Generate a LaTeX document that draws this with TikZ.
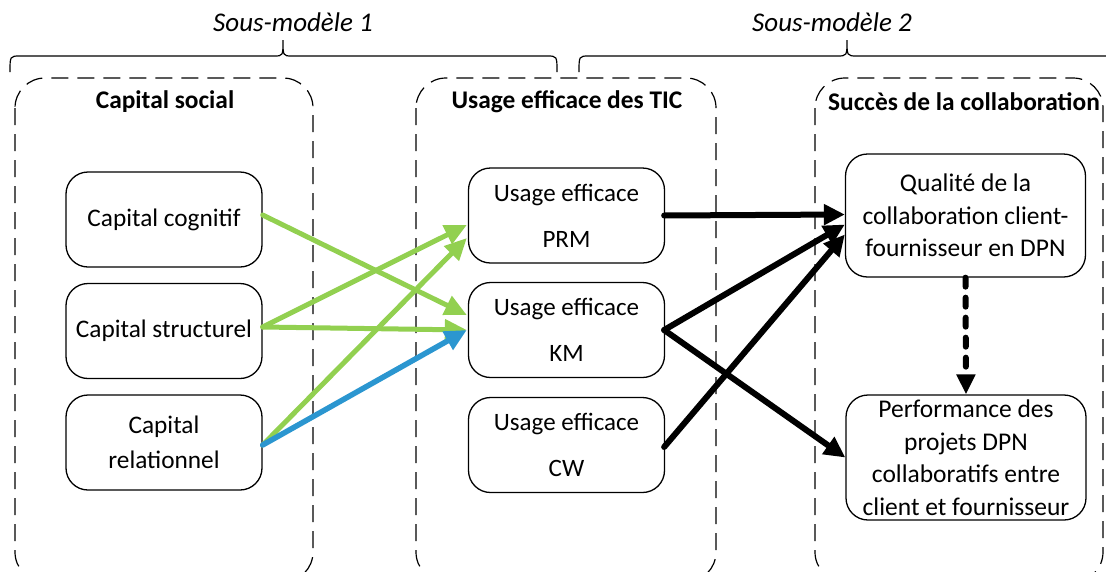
\documentclass[tikz,border=0pt]{standalone}
\usepackage{fontspec}
\setmainfont{Carlito}
\usetikzlibrary{arrows.meta,calc}
\definecolor{vert}{HTML}{92D050}
\definecolor{bleu}{HTML}{2B96D0}
\begin{document}
\begin{tikzpicture}[x=1pt,y=-1pt,
  box/.style={draw,rounded corners=22pt,line width=1.3pt,minimum width=196pt,minimum height=95pt,align=center,inner sep=2pt,font=\fontsize{25.3}{35}\selectfont},
  ubox/.style={box,font=\fontsize{25}{46}\selectfont},
  rbox/.style={box,minimum width=240pt,minimum height=123pt,font=\fontsize{25.5}{32.5}\selectfont},
  group/.style={draw,dash pattern=on 17pt off 9pt,rounded corners=30pt,line width=1.2pt},
  gtitle/.style={font=\bfseries\fontsize{25.4}{30}\selectfont},
  stitle/.style={font=\itshape\fontsize{27}{30}\selectfont},
  brace/.style={draw,line width=1.2pt},
  garrow/.style={vert,line width=5pt,line cap=round,-{Triangle[length=22pt,width=20pt]}},
  barrow/.style={bleu,line width=5.5pt,line cap=round,-{Triangle[length=22pt,width=20pt]}},
  karrow/.style={black,line width=6pt,line cap=round,-{Triangle[length=21pt,width=20pt]}},
  darrow/.style={black,line width=6pt,line cap=round,dash pattern=on 9pt off 11pt,-{Triangle[length=20pt,width=18pt]}}
]
\useasboundingbox (0,0) rectangle (1106,571);

% braces and labels
\node[stitle] (s1) at (293,22) {Sous-modèle 1};
\node[stitle] (s2) at (832,22) {Sous-modèle 2};
\draw[brace] (10,72) .. controls (10,56) .. (20,56) -- (274,56) .. controls (283,56) .. (283,40) .. controls (283,56) .. (292,56) -- (547,56) .. controls (557,56) .. (557,72);
\draw[brace] (579,72) .. controls (579,56) .. (589,56) -- (837,56) .. controls (847,56) .. (847,40) .. controls (847,56) .. (857,56) -- (1105,56) .. controls (1115,56) .. (1115,72);

% group frames
\draw[group] (15,78) rectangle (313,582);
\draw[group] (416,78) rectangle (716,582);
\draw[group] (815,78) rectangle (1103,582);
\node[gtitle] (g1) at (165,102) {Capital social};
\node[gtitle] (g2) at (567,102) {Usage efficace des TIC};
\node[gtitle] (g3) at (964,102) {Succès de la collaboration};

% nodes
\node[box] (cog) at (164,219.5) {Capital cognitif};
\node[box] (str) at (164,331) {Capital structurel};
\node[box] (rel) at (164,442.5) {Capital\\relationnel};
\node[ubox] (prm) at (566.5,215.5) {Usage efficace\\PRM};
\node[ubox] (km) at (566.5,330) {Usage efficace\\KM};
\node[ubox] (cw) at (566.5,445) {Usage efficace\\CW};
\node[rbox] (qual) at (965.5,215.5) {Qualité de la\\collaboration client-\\fournisseur en DPN};
\node[rbox,minimum height=125pt] (perf) at (966,457.5) {Performance des\\projets DPN\\collaboratifs entre\\client et fournisseur};

% green / blue arrows
\draw[garrow] ($(cog.east)+(0,-4.5)$) -- ($(km.west)+(-1,-15)$);
\draw[garrow] ($(str.east)+(0,-4)$) -- ($(prm.west)+(-1,9.5)$);
\draw[garrow] ($(str.east)+(0,-4)$) -- ($(km.west)+(-1,0)$);
\draw[garrow] ($(rel.east)+(0,2.5)$) -- ($(prm.west)+(-1,22.5)$);
\draw[barrow] ($(rel.east)+(0,2.5)$) -- ($(km.west)+(-1,0)$);

% black arrows
\draw[karrow] ($(prm.east)+(-1,0)$) -- ($(qual.west)+(0,-1)$);
\draw[karrow] ($(km.east)+(-1,0)$) -- ($(qual.west)+(0,9)$);
\draw[karrow] ($(km.east)+(-1,0)$) -- ($(perf.west)+(0,0)$);
\draw[karrow] ($(cw.east)+(-1,2)$) -- ($(qual.west)+(0,19)$);
\draw[darrow] (qual.south) -- (perf.north);
\end{tikzpicture}
\end{document}
